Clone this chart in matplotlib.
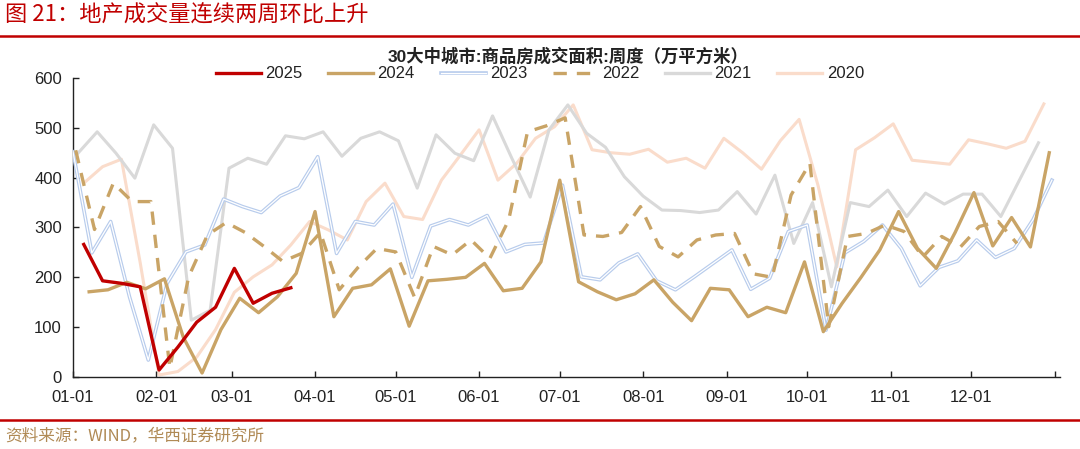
import numpy as np
import pandas as pd
import matplotlib
matplotlib.use("Agg")
import matplotlib.pyplot as plt
from matplotlib.lines import Line2D

plt.rcParams['font.family'] = ['Liberation Sans', 'Noto Sans CJK SC', 'DejaVu Sans']

TITLE = "图 21：地产成交量连续两周环比上升"
CHART_TITLE = "30大中城市:商品房成交面积:周度（万平方米）"
SOURCE = "资料来源：WIND，华西证券研究所"

# 每年第一周的日期 + 周度数据（万平方米）
start_2025 = "2025-01-05"
v2025 = [266, 193, 188, 181, 14, 60, 110, 140, 218, 148, 168, 179]

start_2024 = "2024-01-07"
v2024 = [171, 175, 190, 177, 197, 80, 8, 95, 158, 129, 161, 208, 332, 121, 178, 185,
         217, 102, 193, 196, 200, 228, 173, 178, 231, 395, 191, 171, 155, 167, 195, 150,
         113, 178, 175, 121, 140, 129, 231, 91, 148, 200, 255, 332, 258, 218, 290, 370,
         263, 320, 261, 450]

start_2023 = "2023-01-01"
v2023 = [452, 249, 312, 161, 34, 188, 251, 265, 357, 342, 330, 363, 380, 442, 248, 312,
         305, 347, 200, 303, 316, 305, 324, 251, 266, 269, 385, 201, 195, 229, 247, 193,
         175, 201, 228, 255, 176, 198, 292, 305, 94, 249, 272, 305, 258, 183, 220, 233,
         275, 240, 258, 316, 395]

start_2022 = "2022-01-02"
v2022 = [455, 296, 389, 352, 352, 18, 201, 285, 310, 290, 262, 232, 248, 290, 175, 220,
         258, 251, 160, 262, 245, 275, 238, 315, 492, 504, 520, 285, 282, 290, 342, 262,
         241, 275, 285, 288, 207, 200, 365, 429, 101, 282, 288, 305, 292, 241, 282, 261,
         302, 312, 268]

start_2021 = "2021-01-03"
v2021 = [450, 492, 449, 399, 506, 459, 114, 134, 419, 439, 427, 484, 478, 492, 443, 479,
         492, 474, 379, 486, 449, 434, 524, 441, 361, 496, 546, 489, 461, 402, 363, 335,
         334, 330, 335, 372, 327, 405, 268, 350, 181, 350, 342, 375, 322, 369, 347, 367,
         367, 322, 396, 470]

start_2020 = "2020-01-05"
v2020 = [389, 422, 437, 229, 4, 11, 40, 95, 170, 201, 225, 265, 312, 295, 275, 352,
         389, 322, 316, 395, 445, 496, 395, 429, 479, 502, 546, 456, 450, 447, 457, 431,
         439, 419, 479, 450, 417, 474, 517, 385, 221, 456, 480, 508, 435, 431, 427, 476,
         468, 459, 473, 548]

month_labels = ["01-01", "02-01", "03-01", "04-01", "05-01", "06-01",
                "07-01", "08-01", "09-01", "10-01", "11-01", "12-01"]

RED = "#C00000"
GOLD = "#C9A466"
BLUE = "#B8CCEC"
GREY = "#D9D9D9"
PINK = "#FADCCB"


def day_of_year(start, n):
    d = pd.date_range(start, periods=n, freq="7D")
    return np.asarray((d - pd.Timestamp(d[0].year, 1, 1)).days)


fig = plt.figure(figsize=(10.8, 4.49), dpi=100)
ax = fig.add_axes([73 / 1080, 1 - 377 / 449, (1060 - 73) / 1080, (377 - 78) / 449])

ax.plot(day_of_year(start_2020, len(v2020)), v2020, color=PINK, lw=2.2, zorder=1)
ax.plot(day_of_year(start_2021, len(v2021)), v2021, color=GREY, lw=2.2, zorder=2)
x23 = day_of_year(start_2023, len(v2023))
ax.plot(x23, v2023, color=BLUE, lw=2.6, zorder=3)
ax.plot(x23, v2023, color="white", lw=0.9, zorder=3.1)
ax.plot(day_of_year(start_2022, len(v2022)), v2022, color=GOLD, lw=2.4,
        dashes=(4, 3), zorder=4)
ax.plot(day_of_year(start_2024, len(v2024)), v2024, color=GOLD, lw=2.4, zorder=5)
ax.plot(day_of_year(start_2025, len(v2025)), v2025, color=RED, lw=2.4, zorder=6)

ax.set_xlim(0, 367)
ax.set_ylim(0, 600)
for s in ["top", "right"]:
    ax.spines[s].set_visible(False)
for s in ["left", "bottom"]:
    ax.spines[s].set_color("#222222")
    ax.spines[s].set_linewidth(1)

ticks = pd.date_range("2021-01-01", periods=13, freq="MS")
tick_days = (ticks - pd.Timestamp("2021-01-01")).days
ax.set_xticks(tick_days)
ax.set_xticklabels(month_labels + [""], fontsize=12,
                   family=["Liberation Sans Narrow", "Liberation Sans"], color="#222222")
ax.set_yticks(np.arange(0, 601, 100))
ax.tick_params(axis="y", labelsize=12, labelcolor="#222222", pad=8)
ax.tick_params(axis="x", pad=9)
ax.tick_params(direction="in", length=4, width=1, color="#222222")

# 图例
h2023 = (Line2D([], [], color=BLUE, lw=2.6), Line2D([], [], color="white", lw=0.9))
handles = [Line2D([], [], color=RED, lw=2.4),
           Line2D([], [], color=GOLD, lw=2.4),
           h2023,
           Line2D([], [], color=GOLD, lw=2.4, dashes=(4, 3)),
           Line2D([], [], color=GREY, lw=2.4),
           Line2D([], [], color=PINK, lw=2.4)]
labels = ["2025", "2024", "2023", "2022", "2021", "2020"]
fig.legend(handles, labels, ncol=6, loc="center", bbox_to_anchor=(540 / 1080, 1 - 74 / 449),
           frameon=False, fontsize=12, handlelength=2.7, handletextpad=0.25,
           columnspacing=1.55, labelcolor="#222222")

fig.text(568 / 1080, 1 - 56 / 449, CHART_TITLE, ha="center", va="center", fontsize=12.5,
         fontweight="bold", color="#222222")

fig.text(5 / 1080, 1 - 15 / 449, TITLE, ha="left", va="center", fontsize=16,
         color=RED, family=["Noto Sans CJK SC", "DejaVu Sans"])
fig.add_artist(Line2D([0, 1], [1 - 36 / 449, 1 - 36 / 449], transform=fig.transFigure,
                      color=RED, lw=1.8))
fig.add_artist(Line2D([0, 1], [1 - 420 / 449, 1 - 420 / 449], transform=fig.transFigure,
                      color=RED, lw=1.8))
fig.text(5 / 1080, 1 - 436 / 449, SOURCE, ha="left", va="center", fontsize=12,
         color="#B08A55", family=["Noto Sans CJK SC", "DejaVu Sans"])

fig.savefig("out.png", dpi=100)
